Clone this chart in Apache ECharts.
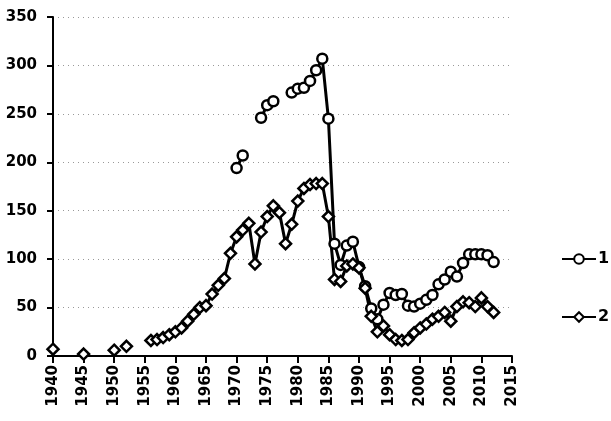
<!DOCTYPE html>
<html>
<head>
<meta charset="utf-8">
<script src="https://cdn.jsdelivr.net/npm/echarts@6/dist/echarts.min.js"></script>
<style>html,body{margin:0;padding:0;background:#fff;}#c{width:611px;height:421px;}</style>
</head>
<body>
<div id="c"></div>
<script>
var years = [1940,1945,1950,1952,1956,1957,1958,1959,1960,1961,1962,1963,1964,1965,1966,1967,1968,1969,1970,1971,1972,1973,1974,1975,1976,1977,1978,1979,1980,1981,1982,1983,1984,1985,1986,1987,1988,1989,1990,1991,1992,1993,1994,1995,1996,1997,1998,1999,2000,2001,2002,2003,2004,2005,2006,2007,2008,2009,2010,2011,2012];
var series1 = [null,null,null,null,null,null,null,null,null,null,null,null,null,null,null,null,null,null,194,207,null,null,246,259,263,null,null,272,276,277,284,295,307,245,116,94,114,118,92,72,49,38,53,65,63,64,52,51,54,58,63,74,79,87,82,96,105,105,105,104,97];
var series2 = [7,2,6,10,16,17,19,22,25,29,36,43,50,52,64,73,80,106,123,130,137,95,128,144,155,148,116,136,160,173,177,178,178,144,79,77,93,95,91,70,41,25,31,22,17,16,17,24,29,33,38,41,45,36,51,56,55,51,60,51,45];
var yTicks = [0,50,100,150,200,250,300,350];
var xTicks = [1940,1945,1950,1955,1960,1965,1970,1975,1980,1985,1990,1995,2000,2005,2010,2015];
var names = ['1','2'];

function pairs(vals){
  var out = [];
  for (var i=0;i<years.length;i++){ out.push([years[i], vals[i]]); }
  return out;
}
var s2 = pairs(series2);
// early isolated points are not joined by a line (gaps in the record)
var s2data = [];
for (var i=0;i<s2.length;i++){
  s2data.push(s2[i]);
  if (years[i] < 1956 && i < s2.length-1) s2data.push([years[i]+0.5, null]);
}
var s1data = pairs(series1);

var font = 'DejaVu Sans';
var chart = echarts.init(document.getElementById('c'), null, {renderer:'canvas'});
chart.setOption({
  animation:false,
  backgroundColor:'#fff',
  grid:{left:53,right:99,top:17,bottom:65,containLabel:false},
  xAxis:{
    type:'value',min:1940,max:2015,interval:5,
    axisLine:{lineStyle:{color:'#000',width:2}},
    axisTick:{length:7,lineStyle:{color:'#000',width:2}},
    axisLabel:{rotate:90,margin:9,color:'#000',fontFamily:font,fontSize:15,fontWeight:'bold',
      formatter:function(v){return xTicks.indexOf(v)>=0?String(v):'';}},
    splitLine:{show:false}
  },
  yAxis:{
    type:'value',min:0,max:350,interval:50,
    axisLine:{show:true,lineStyle:{color:'#000',width:2}},
    axisTick:{show:true,length:6,lineStyle:{color:'#000',width:2}},
    axisLabel:{margin:16,color:'#000',fontFamily:font,fontSize:15,fontWeight:'bold',
      formatter:function(v){return yTicks.indexOf(v)>=0?String(v):'';}},
    splitLine:{show:true,lineStyle:{color:'#999',type:[1,4],width:1}}
  },
  legend:{
    orient:'vertical',left:556,top:246,itemGap:42,itemWidth:34,itemHeight:12,
    textStyle:{color:'#000',fontFamily:font,fontSize:16,fontWeight:'bold',padding:[0,0,0,-3]},
    data:names
  },
  series:[
    {name:names[0],type:'line',data:s1data,connectNulls:false,
     symbol:'circle',symbolSize:10,showAllSymbol:true,
     lineStyle:{color:'#000',width:3},
     itemStyle:{color:'#fff',borderColor:'#000',borderWidth:2.5}},
    {name:names[1],type:'line',data:s2data,connectNulls:false,
     symbol:'diamond',symbolSize:11,showAllSymbol:true,
     lineStyle:{color:'#000',width:3},
     itemStyle:{color:'#fff',borderColor:'#000',borderWidth:2.5}}
  ]
});
</script>
</body>
</html>
